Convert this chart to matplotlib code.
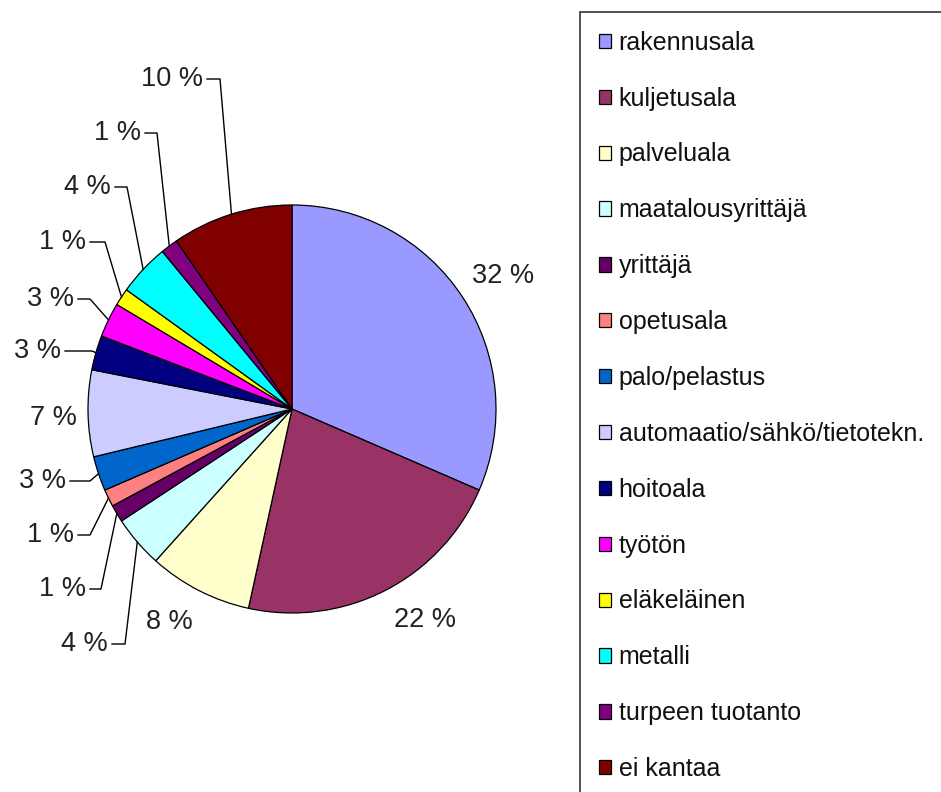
import matplotlib
matplotlib.use("Agg")
import matplotlib.pyplot as plt
from matplotlib.patches import Rectangle
import numpy as np

plt.rcParams['font.family'] = ['Liberation Sans', 'DejaVu Sans']

# vastaajien ammattiala (lukumäärät)
categories = ['rakennusala', 'kuljetusala', 'palveluala', 'maatalousyrittäjä',
              'yrittäjä', 'opetusala', 'palo/pelastus',
              'automaatio/sähkö/tietotekn.', 'hoitoala', 'työtön',
              'eläkeläinen', 'metalli', 'turpeen tuotanto', 'ei kantaa']
counts = [23, 16, 6, 3, 1, 1, 2, 5, 2, 2, 1, 3, 1, 7]
colors = ['#9999FF', '#993366', '#FFFFCC', '#CCFFFF', '#660066', '#FF8080',
          '#0066CC', '#CCCCFF', '#000080', '#FF00FF', '#FFFF00', '#00FFFF',
          '#800080', '#800000']

W, H = 941, 792
cx, cy, r = 292, 409, 204   # pie centre / radius in pixels (top-down)

# label layout (pixels, top-down): (x, y, ha, elbow_x or None)
label_layout = [
    (503, 276, 'center', None),
    (425, 620, 'center', None),
    (169, 622, 'center', None),
    (108, 644, 'right', 125),
    (86, 589, 'right', 101),
    (74, 535, 'right', 90),
    (66, 481, 'right', 90),
    (53, 418, 'center', None),
    (61, 351, 'right', 92),
    (74, 299, 'right', 90),
    (86, 242, 'right', 105),
    (111, 187, 'right', 127),
    (141, 133, 'right', 157),
    (203, 79, 'right', 220),
]

fig = plt.figure(figsize=(W / 100, H / 100), dpi=100)
ax = fig.add_axes([0, 0, 1, 1])

total = sum(counts)
wedges, _ = ax.pie(counts, colors=colors, center=(cx, H - cy), radius=r,
                   startangle=90, counterclock=False,
                   wedgeprops=dict(edgecolor='black', linewidth=0.9))
ax.set_xlim(0, W)
ax.set_ylim(0, H)
ax.set_aspect('equal')
ax.axis('off')

for w, n, (lx, ly, ha, ex) in zip(wedges, counts, label_layout):
    txt = f"{round(n / total * 100):.0f} %"
    ax.text(lx, H - ly, txt, ha=ha, va='center', fontsize=19.5, color='#222222')
    if ex is not None:
        mid = np.deg2rad((w.theta1 + w.theta2) / 2)
        px = cx + r * np.cos(mid)
        py = (H - cy) + r * np.sin(mid)
        ax.plot([lx + 4, ex, px], [H - ly, H - ly, py], color='black', lw=1)

# legend frame runs off the right and bottom edges
ax.add_patch(Rectangle((580, -20), 400, H - 12 + 20, facecolor='none',
                       edgecolor='#333333', lw=1.2, clip_on=False))
leg = ax.legend(wedges, categories, loc='upper left',
                bbox_to_anchor=(580 / W, 1 - 12 / H), bbox_transform=fig.transFigure,
                fontsize=18, frameon=False,
                handlelength=0.5, handleheight=0.5, handletextpad=0.3,
                labelspacing=1.275, borderpad=0.75, borderaxespad=0)
for t in leg.get_texts():
    t.set_color('#111111')

fig.savefig('out.png', dpi=100)
